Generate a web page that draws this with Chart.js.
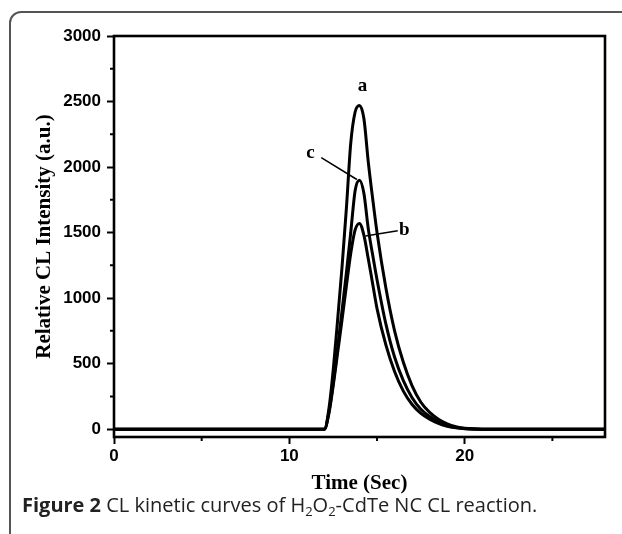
<!DOCTYPE html>
<html><head><meta charset="utf-8">
<script src="https://cdn.jsdelivr.net/npm/chart.js@4"></script>
<style>
html,body{margin:0;padding:0;background:#fff;}
#wrap{position:relative;width:622px;height:534px;overflow:hidden;background:#fff;}
#frame{position:absolute;left:9px;top:11px;width:700px;height:600px;border:2px solid #555;border-radius:12px;box-sizing:border-box;}
#cv{position:absolute;left:0;top:0;}
#cap{position:absolute;left:22px;top:492px;font-family:"Open Sans",sans-serif;font-size:20px;color:#222;white-space:nowrap;line-height:26px;letter-spacing:0;}
#cap b{font-weight:700;}
#cap sub{font-size:13px;vertical-align:-4px;line-height:0;}
</style></head>
<body>
<div id="wrap">
<div id="frame"></div>
<canvas id="cv" width="622" height="534"></canvas>
<div id="cap"><b>Figure 2</b> CL kinetic curves of H<sub>2</sub>O<sub>2</sub>-CdTe NC CL reaction.</div>
</div>
<script>
// ---- data ----
const time = [0,1,2,3,4,5,6,7,8,9,10,11,11.5,
  12,12.25,12.5,12.75,13,13.25,13.5,13.75,14,14.25,14.5,14.75,15,
  15.5,16,16.5,17,17.5,18,18.5,19,19.5,20,
  21,22,23,24,25,26,27,28];
const curveA = [0,0,0,0,0,0,0,0,0,0,0,0,0,
  0,150,450,830,1230,1680,2180,2420,2470,2370,2040,1760,1500,
  1080,750,510,330,205,128,76,40,18,6,
  0,0,0,0,0,0,0,0];
const curveB = [0,0,0,0,0,0,0,0,0,0,0,0,0,
  0,115,330,580,830,1090,1340,1520,1570,1480,1300,1110,920,
  645,440,290,188,120,76,44,22,10,3,
  0,0,0,0,0,0,0,0];
const curveC = [0,0,0,0,0,0,0,0,0,0,0,0,0,
  0,125,350,620,900,1190,1500,1820,1900,1800,1530,1330,1140,
  805,550,370,240,152,96,56,28,12,4,
  0,0,0,0,0,0,0,0];
const seriesNames = ['a','b','c'];
const xMajorTicks = [0,10,20];
const xMinorTicks = [5,15,25];
const yMajorTicks = [0,500,1000,1500,2000,2500,3000];
const yMinorTicks = [250,750,1250,1750,2250,2750];
// curve labels (data units) and leader lines
const labelText = ['a','c','b'];
const labelX = [14.17,11.2,16.56];
const labelY = [2616,2108,1518];
const leaderFromX = [11.82,16.18];
const leaderFromY = [2072,1513];
const leaderToX = [13.85,14.34];
const leaderToY = [1905,1474];

const mk = (arr)=>time.map((t,i)=>({x:t,y:arr[i]}));

const framePlugin = {
  id:'frame',
  afterDatasetsDraw(chart){
    const {ctx, chartArea:a, scales:{x,y}} = chart;
    ctx.save();
    ctx.strokeStyle='#000';
    ctx.lineWidth=2.6;
    ctx.strokeRect(a.left,a.top,a.right-a.left,a.bottom-a.top);
    ctx.lineWidth=2;
    ctx.beginPath();
    xMinorTicks.forEach(v=>{const p=x.getPixelForValue(v);ctx.moveTo(p,a.bottom);ctx.lineTo(p,a.bottom+4);});
    yMinorTicks.forEach(v=>{const p=y.getPixelForValue(v);ctx.moveTo(a.left,p);ctx.lineTo(a.left-4,p);});
    ctx.stroke();
    // leaders
    ctx.lineWidth=1.5;
    ctx.beginPath();
    leaderFromX.forEach((v,i)=>{
      ctx.moveTo(x.getPixelForValue(v),y.getPixelForValue(leaderFromY[i]));
      ctx.lineTo(x.getPixelForValue(leaderToX[i]),y.getPixelForValue(leaderToY[i]));
    });
    ctx.stroke();
    ctx.fillStyle='#000';
    ctx.font='bold 19px "Liberation Serif", serif';
    ctx.textAlign='center';ctx.textBaseline='middle';
    labelText.forEach((s,i)=>ctx.fillText(s,x.getPixelForValue(labelX[i]),y.getPixelForValue(labelY[i])));
    ctx.restore();
  }
};

const ds = (arr,name)=>({label:name,data:mk(arr),borderColor:'#000',borderWidth:3,pointRadius:0,fill:false,cubicInterpolationMode:'monotone'});
const fmt = v=>String(v);

new Chart(document.getElementById('cv'),{
  type:'line',
  data:{datasets:[ds(curveA,seriesNames[0]),ds(curveB,seriesNames[1]),ds(curveC,seriesNames[2])]},
  options:{
    responsive:false,animation:false,
    layout:{padding:{left:0,top:36,right:17,bottom:38}},
    plugins:{legend:{display:false},tooltip:{enabled:false}},
    scales:{
      x:{type:'linear',min:0,max:28,
        afterBuildTicks:s=>{s.ticks=xMajorTicks.map(v=>({value:v}));},
        afterFit:s=>{s.height=59;},
        grid:{display:true,drawOnChartArea:false,drawTicks:true,tickLength:7,tickWidth:2,color:'#000'},
        border:{display:false},
        ticks:{color:'#000',padding:2,maxRotation:0,callback:fmt,font:{family:'"Liberation Sans", Arial',size:17,weight:'bold'}},
        title:{display:true,text:'Time (Sec)',color:'#000',padding:{top:4,bottom:0},font:{family:'"Liberation Serif", serif',size:21,weight:'bold'}}
      },
      y:{type:'linear',min:-60,max:3000,
        afterBuildTicks:s=>{s.ticks=yMajorTicks.map(v=>({value:v}));},
        afterFit:s=>{s.width=114;},
        grid:{display:true,drawOnChartArea:false,drawTicks:true,tickLength:7,tickWidth:2,color:'#000'},
        border:{display:false},
        ticks:{color:'#000',padding:6,callback:fmt,font:{family:'"Liberation Sans", Arial',size:17,weight:'bold'}},
        title:{display:true,text:'Relative CL Intensity (a.u.)',color:'#000',padding:{top:32,bottom:0},font:{family:'"Liberation Serif", serif',size:21,weight:'bold'}}
      }
    }
  },
  plugins:[framePlugin]
});
</script>
</body></html>
